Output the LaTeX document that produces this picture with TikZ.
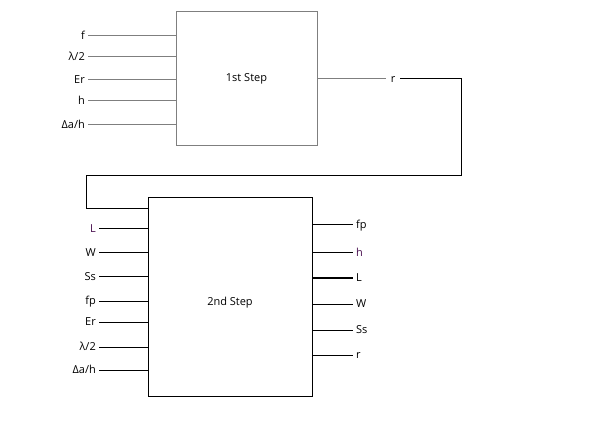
\documentclass[tikz,border=0pt]{standalone}
\usepackage{fontspec}
\setmainfont{Open Sans}
\usepackage{xcolor}
\usetikzlibrary{positioning}
\definecolor{wiregray}{HTML}{7F7F7F}
\definecolor{plum}{HTML}{4A1050}
\def\gap{3}

\begin{document}
\begin{tikzpicture}[x=1pt,y=-1pt,font=\fontsize{11}{13}\selectfont,
    stepbox/.style={draw,line width=1pt,inner sep=0pt},
    pin/.style={inner sep=0pt,text height=1.5ex,text depth=.25ex},
    wire/.style={line width=1pt}]
      \useasboundingbox (0,0) rectangle (602,446);
      \node[stepbox,draw=wiregray,minimum width=141,minimum height=134] (one) at (246.5,79) {1st Step};
      \node[stepbox,minimum width=164,minimum height=198,
        label={[yshift=-6]center:2nd Step}] (two) at (230,297) {};
      \foreach \lbl/\yy [count=\i] in {f/36,{λ/2}/57,Er/80,h/101,{Δa/h}/125} {
        \node[pin,anchor=east] (a\i) at (85,\yy) {\lbl};
        \draw[wire,wiregray] ([xshift=\gap]a\i.east) -- (a\i.east -| one.west);
      }
      \foreach \lbl/\yy [count=\i] in {{\color{plum}L}/229,W/253,Ss/277,fp/301,Er/322,{λ/2}/347,{Δa/h}/370} {
        \node[pin,anchor=east] (b\i) at (96,\yy) {\lbl};
        \draw[wire] ([xshift=\gap]b\i.east) -- (b\i.east -| two.west);
      }
      \foreach \lbl/\yy [count=\i] in {fp/225,{\color{plum}h}/253,L/278,W/304,Ss/330,r/355} {
        \node[pin,anchor=west] (c\i) at (356,\yy) {\lbl};
        \draw[wire] (c\i.west -| two.east) -- ([xshift=-\gap]c\i.west);
      }
      % r goes back round into the second step
      \node[pin] (rr) at (393,79) {r};
      \coordinate (turnA) at (461,176);
      \coordinate (turnB) at (86,209);
      \draw[wire,wiregray] (one.east) -- ([xshift=-5]rr.west);
      \draw[wire] ([xshift=5]rr.east) -| (turnA) -- (turnA -| turnB) -- (turnB) -- (turnB -| two.west);
    \end{tikzpicture}
\end{document}
